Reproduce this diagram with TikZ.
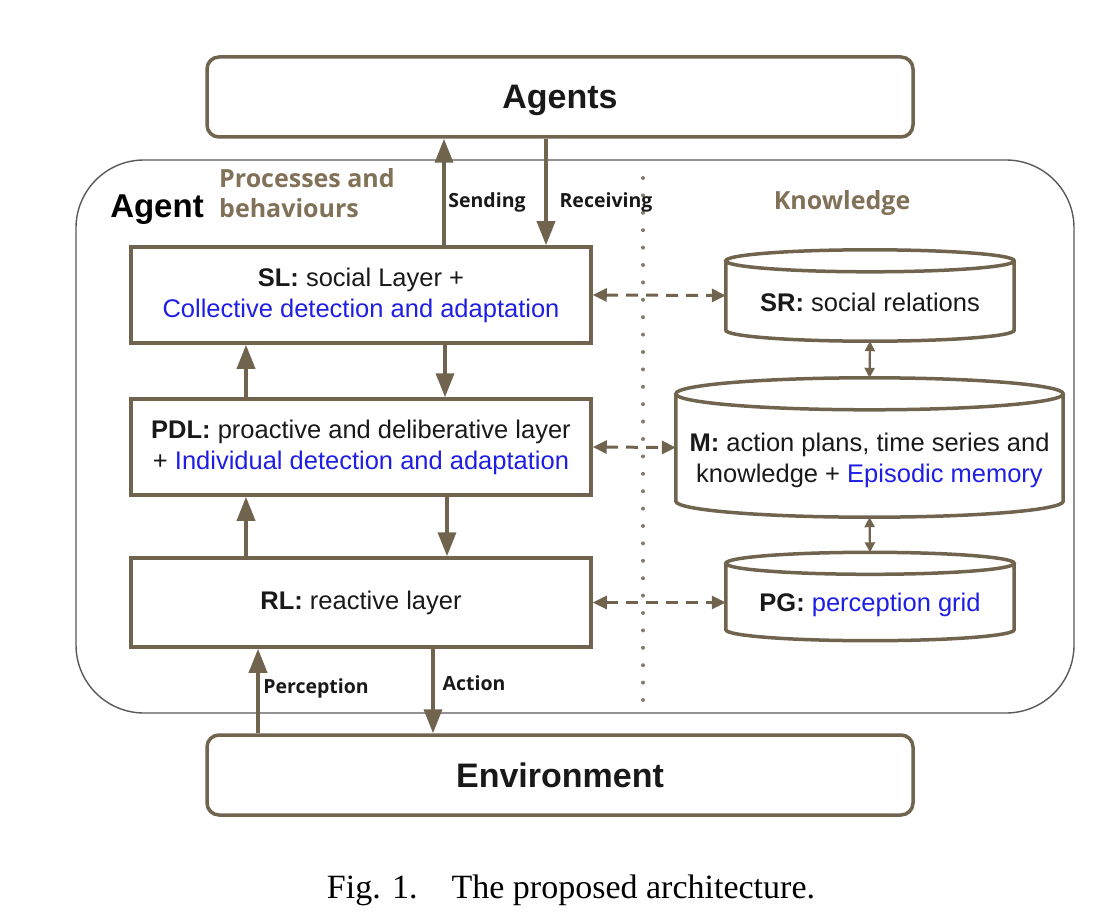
\documentclass[tikz,border=0pt]{standalone}
\usepackage{fontspec}
\setmainfont{Liberation Sans}
\newfontfamily\osans{Open Sans}
\newfontfamily\capfont{Liberation Serif}
\usetikzlibrary{arrows.meta,calc}
\definecolor{edgebrown}{RGB}{112,100,78}
\definecolor{titlebrown}{RGB}{128,113,88}
\definecolor{hiblue}{RGB}{30,30,228}
\definecolor{inktext}{RGB}{25,25,25}
\begin{document}
\begin{tikzpicture}[x=1pt,y=1pt,
  txt/.style={text=inktext,align=center,font=\fontsize{25.5}{31}\selectfont},
  box/.style={txt,draw=edgebrown,line width=3.5pt,inner sep=0pt},
  bigbox/.style={box,rounded corners=12pt,minimum width=706,minimum height=80,text depth=0pt,font=\fontsize{34}{40}\selectfont\bfseries},
  layer/.style={box,minimum width=460},
  store/.style={inner sep=0pt},
  drum/.style={draw=edgebrown,line width=3.5pt},
  flow/.style={draw=edgebrown,line width=3.5pt,-{Triangle[length=24pt,width=18pt]}},
  link/.style={draw=edgebrown,line width=3pt,dash pattern=on 12pt off 8pt,{Triangle[length=14pt,width=13pt]}-{Triangle[length=14pt,width=13pt]}},
  tie/.style={draw=edgebrown,line width=2.2pt,{Triangle[length=10pt,width=10pt]}-{Triangle[length=10pt,width=10pt]}},
  tag/.style={font=\osans\bfseries\fontsize{19.5}{23}\selectfont,text=inktext,inner sep=0pt},
  head/.style={font=\osans\bfseries\fontsize{25}{30}\selectfont,text=titlebrown,align=left,inner sep=0pt}]
\useasboundingbox (0,0) rectangle (1115,-917);
\node[draw=black!65,line width=1.4pt,rounded corners=68pt,minimum width=998,minimum height=553] (agentframe) at (575,-436.5) {};
\node[bigbox] (agents) at (560,-97) {Agents};
\node[bigbox] (env) at (560,-775) {Environment};
\node[layer,minimum height=96] (sl) at (361,-295) {\textbf{SL:} social Layer +\\\textcolor{hiblue}{Collective detection and adaptation}};
\node[layer,minimum height=96] (pdl) at (361,-447) {\textbf{PDL:} proactive and deliberative layer\\+ \textcolor{hiblue}{Individual detection and adaptation}};
\node[layer,minimum height=89] (rl) at (361,-602.5) {\textbf{RL:} reactive layer};
\node[store,minimum width=288,minimum height=91,label={[txt,yshift=-7pt]center:{\textbf{SR:} social relations}}] (sr) at (870,-295.5) {};
\node[store,minimum width=387,minimum height=139,label={[txt,yshift=-13pt]center:{\textbf{M:} action plans, time series and\\knowledge + \textcolor{hiblue}{Episodic memory}}}] (m) at (869.5,-447.5) {};
\node[store,minimum width=288,minimum height=88,label={[txt,yshift=-8pt]center:{\textbf{PG:} \textcolor{hiblue}{perception grid}}}] (pg) at (870,-596.5) {};
\foreach \s/\ry in {sr/11,m/16,pg/11}
  \draw[drum] let \p1=(\s.north west),\p2=(\s.south east),\n1={(\x2-\x1)/2} in
    (\x1,\y1-\ry) -- (\x1,\y2+\ry) arc[start angle=180,end angle=360,x radius={\n1+0pt},y radius={\ry+0pt}] -- (\x2,\y1-\ry)
    (\x1+\n1,\y1-\ry) ellipse[x radius={\n1+0pt},y radius={\ry+0pt}];
\coordinate (dtop) at (643,-178);
\coordinate (dbot) at (643,-700);
\draw[draw=edgebrown!85,line width=4pt,line cap=round,dash pattern=on 0pt off 17.4pt] (dtop) -- (dbot);
\draw[flow] ([xshift=83]sl.north) -- ([xshift=83]sl.north |- agents.south);
\draw[flow] ([xshift=185]sl.north |- agents.south) -- ([xshift=185]sl.north);
\draw[flow] ([xshift=-115]pdl.north) -- ([xshift=-115]sl.south);
\draw[flow] ([xshift=84]sl.south) -- ([xshift=84]pdl.north);
\draw[flow] ([xshift=-115]rl.north) -- ([xshift=-115]pdl.south);
\draw[flow] ([xshift=86]pdl.south) -- ([xshift=86]rl.north);
\draw[flow] ([xshift=-103]rl.south |- env.north) -- ([xshift=-103]rl.south);
\draw[flow] ([xshift=72]rl.south) -- ([xshift=72]rl.south |- env.north);
\draw[link] (sl.east) -- (sr.west);
\draw[link] (pdl.east) -- (m.west);
\draw[link] (rl.east) -- (rl.east -| pg.west);
\draw[tie] (sr.south) -- (m.north);
\draw[tie] (m.south) -- (pg.north);
\node[font=\fontsize{33}{40}\selectfont\bfseries,text=black] (agentlbl) at (157,-210) {Agent};
\node[head,anchor=west] (proclbl) at (219,-193) {Processes and\\behaviours};
\node[head] (knowlbl) at (842,-203) {Knowledge};
\node[tag] (sendlbl) at (487,-202) {Sending};
\node[tag] (recvlbl) at (606,-202) {Receiving};
\node[tag] (perclbl) at (316,-688) {Perception};
\node[tag] (actlbl) at (474,-683) {Action};
\node[font=\capfont\fontsize{34}{40}\selectfont,text=black] (caption) at (571,-890) {Fig. 1.\quad The proposed architecture.};
\end{tikzpicture}
\end{document}
